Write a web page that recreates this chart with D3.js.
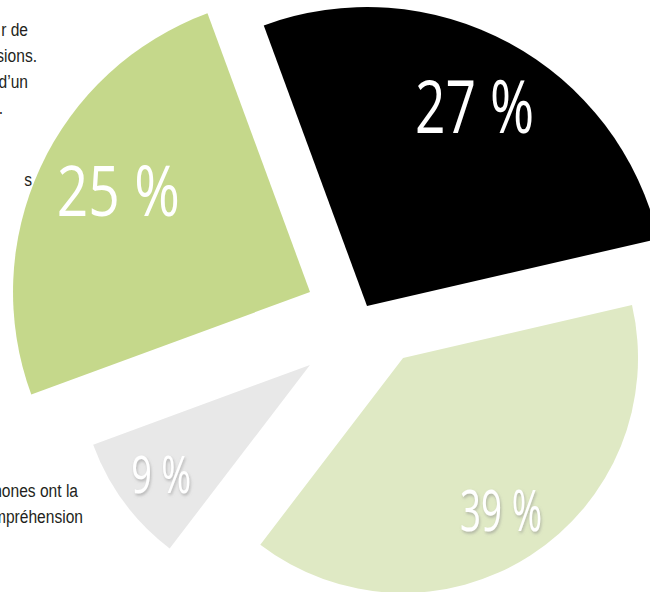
<html>
<head>
<style>
body { margin: 0; background: #fff; }
svg { display: block; }
</style>
</head>
<body>
<svg id="chart" width="650" height="592"></svg>
<script src="https://d3js.org/d3.v7.min.js"></script>
<script>
var values = [27, 39, 9, 25];
var labels = ['27 %', '39 %', '9 %', '25 %'];
var topNote = ['r de', 'sions.', 'd\u2019un', '.'];
var sideNote = ['s'];
var bottomNote = ['phones ont la', 'compr\u00e9hension'];

// look of each slice
var colors = ['#000000', '#dfe9c4', '#e8e8e8', '#c5d88b'];
var radius = [299, 235, 231, 297];
var pullDist = [10.4, 53.4, 77.5, 64.6];
var pullAngle = [-16.7, 141.8, 230.8, 291.8];
var fontSize = [73, 57, 52, 70];
var labelWidth = [119, 82, 60, 123];
var labelDist = [0.756, 0.77, 0.80, 0.73];
var labelNudge = [0, 0, 0, 3];
var shadow = [false, true, true, false];

var svg = d3.select('#chart');
var cx = 370, cy = 316;
var deg = Math.PI / 180;

var defs = svg.append('defs');
defs.append('filter').attr('id', 'shade')
	.attr('x', '-20%').attr('y', '-20%').attr('width', '140%').attr('height', '140%')
	.append('feDropShadow')
	.attr('dx', 1).attr('dy', 2).attr('stdDeviation', 1.5)
	.attr('flood-color', '#888').attr('flood-opacity', 0.55);

var pie = d3.pie().sort(null)
	.startAngle(-20.2 * deg)
	.endAngle(339.8 * deg);

var slices = svg.selectAll('g.slice')
	.data(pie(values))
	.enter()
	.append('g')
	.attr('class', 'slice')
	.attr('transform', function(d, i) {
		var a = pullAngle[i] * deg;
		var x = cx + Math.sin(a) * pullDist[i];
		var y = cy - Math.cos(a) * pullDist[i];
		return 'translate(' + x + ',' + y + ')';
	});

slices.append('path')
	.attr('d', function(d, i) {
		return d3.arc().innerRadius(0).outerRadius(radius[i])(d);
	})
	.attr('fill', function(d, i) { return colors[i]; });

slices.append('text')
	.attr('x', function(d, i) {
		var mid = (d.startAngle + d.endAngle) / 2 + labelNudge[i] * deg;
		return Math.sin(mid) * radius[i] * labelDist[i];
	})
	.attr('y', function(d, i) {
		var mid = (d.startAngle + d.endAngle) / 2 + labelNudge[i] * deg;
		return -Math.cos(mid) * radius[i] * labelDist[i];
	})
	.attr('dy', '0.36em')
	.attr('text-anchor', 'middle')
	.attr('font-family', '"Open Sans", "Liberation Sans", sans-serif')
	.attr('font-size', function(d, i) { return fontSize[i]; })
	.attr('textLength', function(d, i) { return labelWidth[i]; })
	.attr('lengthAdjust', 'spacingAndGlyphs')
	.attr('fill', '#fff')
	.attr('filter', function(d, i) { return shadow[i] ? 'url(#shade)' : null; })
	.text(function(d, i) { return labels[i]; });

// paragraph text cut by the left edge (narrowed Liberation Sans)
var squeeze = 0.82;
var note = svg.append('g')
	.attr('transform', 'scale(' + squeeze + ',1)')
	.attr('font-family', '"Liberation Sans", Arial, sans-serif')
	.attr('font-size', 19)
	.attr('fill', '#231f20')
	.attr('text-anchor', 'end');

var topEnds = [28, 37, 28, 3];
note.selectAll('text.top').data(topNote).enter().append('text')
	.attr('class', 'top')
	.attr('x', function(d, i) { return topEnds[i] / squeeze; })
	.attr('y', function(d, i) { return 36 + i * 26; })
	.text(function(d) { return d; });

note.selectAll('text.side').data(sideNote).enter().append('text')
	.attr('class', 'side')
	.attr('x', 32 / squeeze)
	.attr('y', 186)
	.text(function(d) { return d; });

var bottomEnds = [78, 83];
note.selectAll('text.bottom').data(bottomNote).enter().append('text')
	.attr('class', 'bottom')
	.attr('x', function(d, i) { return bottomEnds[i] / squeeze; })
	.attr('y', function(d, i) { return 497 + i * 26; })
	.text(function(d) { return d; });
</script>
</body>
</html>
